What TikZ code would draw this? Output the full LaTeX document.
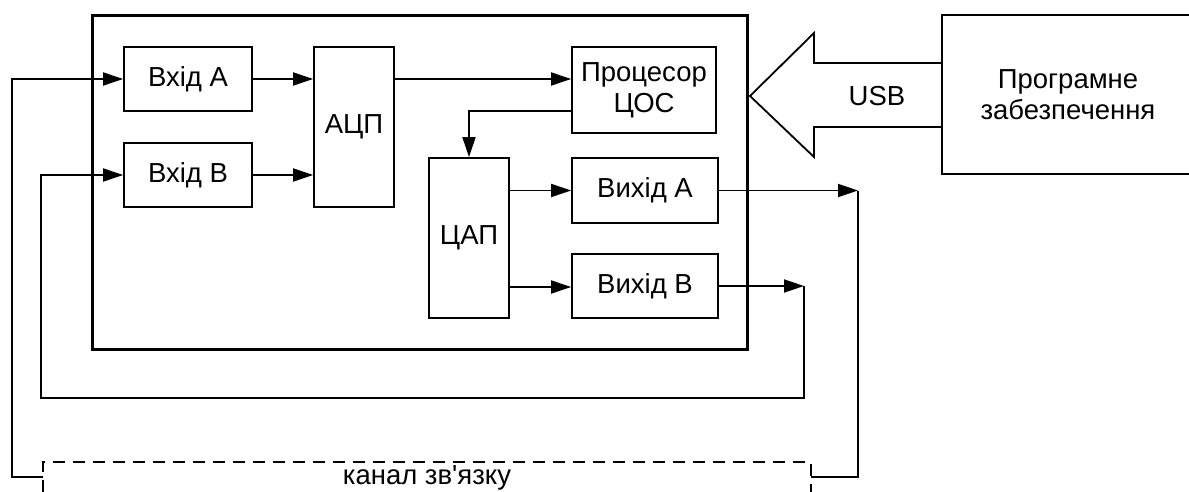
\documentclass[tikz,border=0pt]{standalone}
\usepackage{fontspec}
\newfontfamily\diagfont{Liberation Sans}
\usetikzlibrary{arrows.meta}
\begin{document}
\begin{tikzpicture}[x=1pt,y=-1pt,
  line width=1.8pt,
  blk/.style={draw, rectangle, inner sep=0pt, align=center,
    font=\diagfont\fontsize{27.5}{31}\selectfont},
  lbl/.style={inner sep=0pt, align=center, font=\diagfont\fontsize{27.5}{31}\selectfont},
  arr/.style={-{Triangle[length=20pt,width=13pt]}},
  bracket/.style={dash pattern=on 12pt off 8pt}
]
\useasboundingbox (0,0) rectangle (1189,492);
% main board
\node[draw, line width=3pt, minimum width=655pt, minimum height=333pt, inner sep=0pt] (board) at (419.5,182.5) {};
% blocks
\node[blk, minimum width=128pt, minimum height=64pt] (inA) at (188,79) {Вхід А};
\node[blk, minimum width=128pt, minimum height=64pt] (inB) at (188,175) {Вхід В};
\node[blk, minimum width=80pt, minimum height=160pt] (adc) at (354,127) {АЦП};
\node[blk, minimum width=144pt, minimum height=86pt] (dsp) at (644,90) {Процесор\\ЦОС};
\node[blk, minimum width=80pt, minimum height=160pt] (dac) at (469,238) {ЦАП};
\node[blk, minimum width=146pt, minimum height=65pt] (outA) at (645,190.5) {Вихід А};
\node[blk, minimum width=146pt, minimum height=64pt] (outB) at (645,286) {Вихід В};
\node[blk, minimum width=252pt, minimum height=159pt] (prog) at (1068,94.5) {Програмне\\забезпечення};
% USB arrow
\draw (942,63) -- (814,63) -- (814,33) -- (750,96) -- (814,157) -- (814,127) -- (942,127);
\node[lbl] (usb) at (877,96) {USB};
% coordinates
\coordinate (dspout) at (572,111);
\coordinate (pA) at (858,191);
\coordinate (pB) at (804,286);
\coordinate (lB) at (41,398);
\coordinate (brL) at (43,477);
\coordinate (brR) at (811,477);
\coordinate (lA) at (12,79);
% internal connectors
\draw[arr] (inA.east) -- (inA.east -| adc.west);
\draw[arr] (inB.east) -- (inB.east -| adc.west);
\draw[arr] (adc.east |- inA.east) -- (dsp.west |- inA.east);
\draw[arr] (dspout) -| (dac.north);
\draw[arr] (dac.east |- outA.west) -- (outA.west);
\draw[arr] (dac.east |- 0,287) -- (outB.west |- 0,287);
% outputs
\draw[arr] (outA.east) -- (outA.east -| pA);
\draw (pA) |- (brR);
\draw[arr] (outB.east) -- (pB);
\draw[arr] (pB) |- (lB) |- (inB.west);
\draw[arr] (brL) -| (lA) -- (inA.west);
% channel bracket
\draw[bracket] (43,492) -- (43,462) -- (811,462) -- (811,492);
\node[lbl] (chan) at (427,478) {канал зв\symbol{39}язку};
\end{tikzpicture}
\end{document}
